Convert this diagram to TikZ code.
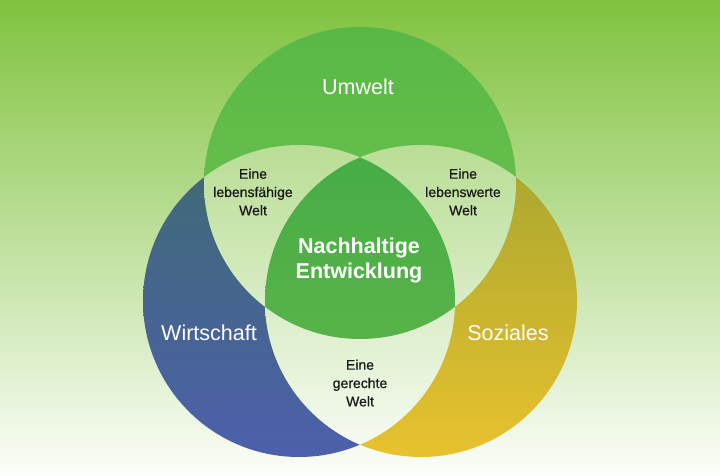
\documentclass[tikz,border=0pt]{standalone}
\usepackage{fontspec}
\setmainfont{Liberation Sans}
\newfontface\smallfontface{Liberation Sans}[FakeBold=0.6]
\definecolor{bgtop}{RGB}{128,194,62}
\definecolor{bgmid}{RGB}{184,219,142}
\definecolor{bgbot}{RGB}{252,254,250}
\definecolor{bluetop}{RGB}{64,106,114}
\definecolor{bluebot}{RGB}{76,96,172}
\definecolor{goldtop}{RGB}{166,165,48}
\definecolor{goldbot}{RGB}{232,194,46}
\definecolor{grtop}{RGB}{88,184,70}
\definecolor{grbot}{RGB}{116,196,80}
\definecolor{cetop}{RGB}{70,172,70}
\definecolor{cebot}{RGB}{98,184,74}
\definecolor{smalltext}{RGB}{25,25,25}
\tikzset{
  bgshade/.style={top color=bgtop, middle color=bgmid, bottom color=bgbot},
  biglabel/.style={text=white, font=\fontsize{21.5}{25}\selectfont, inner sep=0pt},
  centerlabel/.style={text=white, font=\bfseries\fontsize{21.5}{25}\selectfont, align=center, inner sep=0pt},
  smalllabel/.style={text=smalltext, font=\smallfontface\fontsize{14}{18.3}\selectfont, align=center, inner sep=0pt}
}
\begin{document}
\begin{tikzpicture}[x=1pt,y=1pt]
\useasboundingbox (0,0) rectangle (720,476);
\shade[bgshade] (0,0) rectangle (720,476);
\coordinate (T) at (360,293);
\coordinate (L) at (299,175);
\coordinate (R) at (421,175);
% main circles
\shade[top color=bluetop, bottom color=bluebot] (L) circle (156);
\shade[top color=goldtop, bottom color=goldbot] (R) circle (156);
\shade[top color=grtop, bottom color=grbot] (T) circle (156);
% lenses
\begin{scope}
  \clip (T) circle (156);
  \clip (L) circle (156);
  \shade[bgshade] (0,0) rectangle (720,476);
  \fill[white, opacity=0.22] (0,0) rectangle (720,476);
\end{scope}
\begin{scope}
  \clip (T) circle (156);
  \clip (R) circle (156);
  \shade[bgshade] (0,0) rectangle (720,476);
  \fill[white, opacity=0.22] (0,0) rectangle (720,476);
\end{scope}
\begin{scope}
  \clip (L) circle (156);
  \clip (R) circle (156);
  \shade[bgshade] (0,0) rectangle (720,476);
  \fill[white, opacity=0.22] (0,0) rectangle (720,476);
\end{scope}
% center
\begin{scope}
  \clip (T) circle (156);
  \clip (L) circle (156);
  \shade[top color=cetop, bottom color=cebot] (R) circle (156);
\end{scope}
% labels
\node[biglabel] (umwelt) at (358,389) {Umwelt};
\node[biglabel] (wirtschaft) at (209,143) {Wirtschaft};
\node[biglabel] (soziales) at (508,143) {Soziales};
\node[centerlabel] (ne) at (359,215.5) {Nachhaltige\\Entwicklung};
\node[smalllabel] (lf) at (253,284) {Eine\\lebensfähige\\Welt};
\node[smalllabel] (lw) at (463,284) {Eine\\lebenswerte\\Welt};
\node[smalllabel] (gw) at (360,93) {Eine\\gerechte\\Welt};
\end{tikzpicture}
\end{document}
